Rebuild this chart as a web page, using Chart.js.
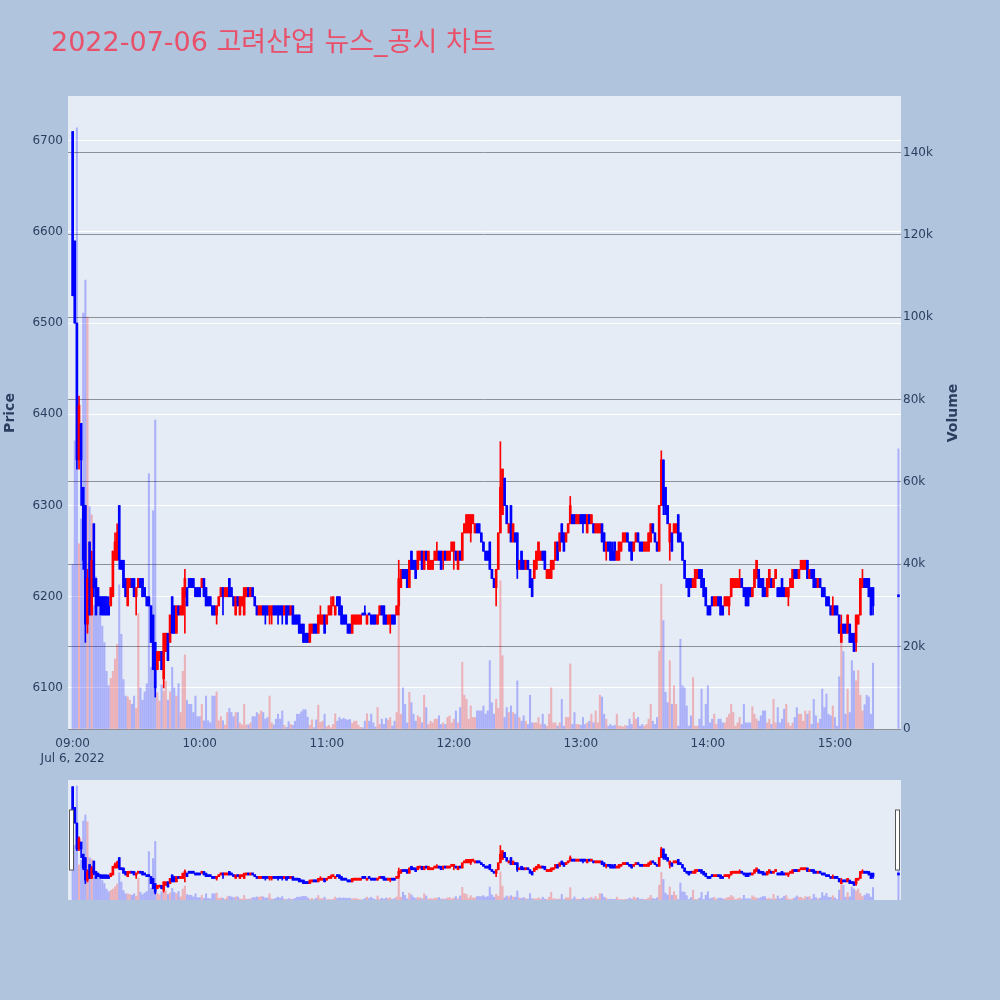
<!DOCTYPE html>
<html>
<head>
<meta charset="utf-8">
<script src="https://cdn.jsdelivr.net/npm/chart.js@4.4.1/dist/chart.umd.min.js"></script>
<style>
  html, body { margin: 0; padding: 0; background: #b0c4de; }
  #wrap { position: relative; width: 1000px; height: 1000px; }
  #main { position: absolute; left: 0; top: 0; }
  #slider { position: absolute; left: 0; top: 770px; }
</style>
</head>
<body>
<div id="wrap">
  <canvas id="main" width="1000" height="1000"></canvas>
  <canvas id="slider" width="1000" height="140"></canvas>
</div>
<script>
// 1-minute bars, index 0 = 09:00
const opens = [
  6710,6590,6500,6350,6390,6320,6300,6170,6260,6180,
  6280,6220,6210,6200,6200,6200,6200,6190,6190,6200,
  6240,6240,6300,6240,6240,6220,6190,6210,6220,6220,
  6200,6210,6220,6220,6210,6200,6200,6190,6180,6150,
  6120,6130,6140,6110,6140,6160,6150,6200,6190,6160,
  6190,6180,6180,6200,6210,6220,6220,6220,6210,6210,
  6210,6210,6220,6210,6200,6200,6190,6190,6180,6190,
  6200,6210,6200,6200,6220,6210,6200,6180,6200,6180,
  6190,6180,6200,6210,6200,6210,6200,6190,6180,6180,
  6190,6190,6190,6180,6180,6190,6190,6190,6190,6190,
  6180,6190,6190,6180,6190,6180,6180,6180,6170,6170,
  6160,6160,6150,6160,6170,6170,6160,6170,6170,6180,
  6170,6180,6180,6190,6180,6200,6200,6190,6180,6180,
  6170,6170,6160,6170,6170,6170,6170,6180,6180,6170,
  6180,6180,6180,6180,6170,6180,6190,6190,6180,6170,
  6170,6180,6180,6180,6190,6210,6230,6230,6230,6210,
  6250,6240,6240,6230,6240,6250,6230,6250,6230,6230,
  6230,6240,6240,6250,6250,6240,6250,6240,6240,6250,
  6250,6250,6230,6250,6240,6270,6270,6270,6270,6280,
  6270,6280,6280,6270,6260,6250,6250,6260,6230,6220,
  6210,6230,6270,6290,6330,6300,6270,6300,6260,6270,
  6270,6230,6250,6240,6230,6240,6230,6220,6220,6230,
  6240,6240,6250,6250,6220,6220,6220,6230,6240,6260,
  6250,6280,6270,6260,6270,6280,6290,6290,6280,6280,
  6290,6290,6290,6270,6290,6280,6280,6270,6270,6270,
  6280,6270,6250,6260,6260,6250,6260,6240,6240,6250,
  6260,6260,6270,6260,6260,6250,6260,6270,6260,6260,
  6250,6250,6250,6260,6280,6270,6260,6250,6300,6350,
  6320,6300,6260,6270,6270,6270,6290,6270,6260,6240,
  6220,6220,6220,6210,6210,6220,6230,6230,6220,6210,
  6190,6190,6200,6190,6190,6200,6200,6190,6190,6190,
  6190,6200,6210,6210,6210,6210,6220,6210,6210,6210,
  6210,6200,6210,6220,6230,6220,6220,6210,6200,6210,
  6220,6210,6220,6210,6210,6220,6210,6200,6200,6210,
  6210,6230,6230,6220,6230,6230,6230,6240,6220,6230,
  6230,6220,6210,6220,6210,6210,6200,6200,6190,6180,
  6190,6190,6180,6150,6170,6170,6160,6170,6160,6160,
  6150,6170,6180,6210,6220,6220,6220,6210,6210
];
const highs = [
  6710,6590,6500,6420,6390,6320,6300,6230,6260,6250,
  6280,6220,6210,6200,6200,6200,6200,6200,6210,6250,
  6270,6280,6300,6240,6240,6220,6220,6220,6220,6220,
  6210,6220,6220,6220,6210,6200,6200,6190,6180,6150,
  6140,6140,6140,6160,6160,6160,6180,6200,6190,6190,
  6190,6190,6210,6230,6210,6220,6220,6220,6210,6210,
  6210,6220,6220,6210,6200,6200,6190,6190,6190,6200,
  6210,6210,6210,6210,6220,6210,6200,6200,6200,6200,
  6200,6210,6210,6210,6210,6210,6200,6190,6190,6190,
  6190,6190,6190,6190,6190,6190,6190,6190,6190,6190,
  6190,6190,6190,6190,6190,6180,6180,6180,6170,6170,
  6160,6160,6170,6170,6170,6170,6180,6190,6180,6180,
  6180,6190,6200,6200,6190,6200,6200,6190,6180,6180,
  6170,6170,6180,6180,6180,6180,6180,6180,6190,6180,
  6180,6180,6180,6180,6180,6190,6190,6190,6180,6180,
  6180,6180,6180,6190,6240,6230,6230,6230,6230,6240,
  6250,6240,6240,6250,6250,6250,6250,6250,6250,6240,
  6240,6250,6260,6250,6250,6250,6250,6250,6250,6260,
  6260,6250,6250,6250,6270,6280,6290,6290,6290,6290,
  6280,6280,6280,6270,6260,6250,6250,6260,6230,6220,
  6230,6270,6370,6340,6330,6300,6280,6300,6280,6270,
  6270,6240,6250,6240,6240,6240,6230,6220,6240,6250,
  6260,6250,6250,6250,6230,6230,6240,6240,6260,6260,
  6270,6280,6270,6270,6280,6310,6290,6290,6290,6290,
  6290,6290,6290,6290,6290,6290,6280,6280,6280,6280,
  6280,6270,6260,6260,6260,6260,6260,6250,6260,6260,
  6270,6270,6270,6260,6260,6260,6270,6270,6260,6260,
  6260,6260,6270,6280,6280,6270,6260,6300,6360,6350,
  6320,6300,6280,6270,6280,6280,6290,6270,6260,6240,
  6220,6220,6220,6220,6230,6230,6230,6230,6220,6210,
  6190,6190,6200,6200,6200,6200,6200,6190,6200,6200,
  6200,6220,6220,6220,6220,6230,6220,6210,6210,6210,
  6210,6210,6230,6240,6230,6220,6220,6210,6220,6230,
  6220,6220,6230,6210,6210,6220,6210,6210,6210,6220,
  6230,6230,6230,6230,6240,6240,6240,6240,6230,6230,
  6230,6220,6220,6220,6210,6210,6200,6200,6190,6200,
  6190,6190,6180,6180,6170,6170,6180,6170,6160,6160,
  6180,6180,6220,6230,6220,6220,6220,6210,6210
];
const lows = [
  6530,6500,6340,6340,6300,6230,6150,6160,6180,6180,
  6200,6180,6190,6180,6180,6180,6180,6180,6190,6200,
  6240,6240,6230,6230,6210,6200,6190,6210,6210,6200,
  6180,6210,6210,6200,6200,6190,6190,6150,6120,6090,
  6120,6130,6120,6100,6140,6130,6150,6160,6160,6160,
  6180,6180,6180,6160,6190,6210,6210,6210,6200,6200,
  6200,6210,6200,6190,6190,6190,6180,6180,6170,6190,
  6200,6180,6200,6200,6200,6200,6190,6180,6190,6180,
  6190,6180,6200,6200,6200,6200,6190,6180,6180,6180,
  6180,6170,6180,6170,6170,6180,6180,6170,6180,6170,
  6180,6170,6180,6180,6170,6170,6170,6160,6160,6150,
  6150,6150,6150,6160,6160,6160,6160,6170,6170,6160,
  6170,6180,6180,6190,6180,6190,6180,6170,6170,6170,
  6160,6160,6160,6170,6170,6170,6170,6180,6180,6170,
  6180,6170,6170,6170,6170,6180,6180,6170,6170,6170,
  6160,6170,6170,6180,6180,6210,6220,6220,6210,6210,
  6230,6230,6220,6230,6240,6230,6230,6240,6230,6230,
  6230,6240,6240,6240,6230,6230,6240,6240,6240,6250,
  6230,6240,6230,6240,6240,6270,6270,6270,6260,6280,
  6270,6270,6270,6260,6250,6240,6240,6230,6220,6210,
  6190,6230,6270,6290,6300,6280,6270,6260,6260,6260,
  6220,6230,6230,6230,6230,6230,6210,6200,6220,6230,
  6240,6240,6240,6230,6220,6220,6220,6230,6240,6240,
  6250,6260,6250,6260,6270,6280,6280,6280,6280,6280,
  6280,6270,6280,6270,6280,6280,6270,6270,6270,6270,
  6260,6250,6240,6250,6240,6240,6240,6240,6240,6250,
  6260,6260,6260,6250,6240,6250,6260,6260,6250,6250,
  6250,6250,6250,6260,6270,6260,6250,6250,6300,6290,
  6290,6280,6240,6250,6270,6270,6260,6260,6240,6220,
  6210,6200,6210,6210,6210,6220,6220,6210,6200,6190,
  6180,6180,6190,6190,6190,6190,6180,6180,6190,6190,
  6180,6200,6210,6210,6210,6210,6210,6200,6190,6190,
  6200,6200,6210,6220,6210,6210,6200,6200,6200,6210,
  6210,6210,6220,6200,6200,6200,6200,6200,6190,6210,
  6210,6220,6220,6220,6230,6230,6230,6220,6220,6220,
  6210,6210,6210,6210,6200,6200,6190,6190,6180,6180,
  6180,6180,6160,6150,6160,6160,6160,6150,6150,6140,
  6140,6170,6180,6210,6210,6210,6200,6180,6180
];
const closes = [
  6530,6500,6350,6410,6350,6240,6170,6220,6180,6240,
  6210,6180,6190,6190,6180,6180,6180,6180,6210,6250,
  6260,6270,6240,6230,6210,6200,6220,6220,6210,6200,
  6210,6220,6210,6200,6200,6190,6190,6150,6120,6100,
  6140,6140,6120,6160,6160,6130,6180,6160,6160,6190,
  6180,6190,6210,6220,6190,6210,6210,6210,6200,6200,
  6200,6220,6200,6190,6190,6190,6180,6180,6190,6200,
  6210,6200,6210,6210,6200,6200,6190,6200,6190,6200,
  6200,6210,6210,6200,6210,6200,6190,6180,6190,6190,
  6180,6180,6180,6190,6190,6180,6180,6180,6180,6180,
  6190,6170,6180,6190,6170,6170,6170,6160,6160,6150,
  6150,6150,6170,6170,6160,6160,6180,6180,6180,6160,
  6180,6190,6190,6200,6190,6190,6180,6170,6170,6170,
  6160,6160,6180,6180,6180,6180,6180,6180,6180,6180,
  6180,6170,6170,6170,6180,6190,6180,6170,6170,6180,
  6180,6170,6170,6190,6220,6230,6220,6220,6210,6240,
  6230,6230,6220,6250,6250,6230,6250,6240,6250,6240,
  6240,6250,6250,6240,6230,6250,6240,6250,6250,6260,
  6260,6240,6250,6240,6270,6280,6290,6290,6290,6290,
  6280,6270,6270,6260,6250,6240,6240,6230,6220,6210,
  6230,6270,6320,6340,6300,6280,6280,6260,6280,6260,
  6230,6240,6230,6230,6240,6230,6210,6200,6240,6250,
  6260,6250,6240,6230,6230,6230,6240,6240,6260,6240,
  6270,6260,6250,6270,6280,6300,6280,6280,6290,6290,
  6280,6280,6280,6290,6280,6290,6270,6280,6280,6280,
  6260,6250,6260,6250,6240,6240,6240,6250,6260,6260,
  6270,6270,6260,6250,6240,6260,6270,6260,6250,6250,
  6260,6260,6270,6280,6270,6260,6250,6300,6350,6300,
  6290,6280,6280,6250,6280,6280,6260,6260,6240,6220,
  6210,6200,6210,6220,6230,6230,6220,6210,6200,6190,
  6180,6180,6190,6200,6200,6190,6180,6180,6200,6200,
  6200,6220,6220,6220,6220,6220,6210,6200,6190,6190,
  6200,6210,6230,6240,6210,6210,6200,6200,6220,6230,
  6210,6220,6230,6200,6200,6200,6200,6210,6210,6220,
  6230,6220,6220,6230,6240,6240,6240,6220,6230,6220,
  6210,6210,6220,6210,6200,6200,6190,6190,6180,6190,
  6180,6180,6160,6170,6160,6160,6180,6150,6150,6140,
  6180,6180,6220,6220,6210,6210,6200,6180,6190
];
const volumes = [
  40000,70000,146000,45000,51000,101000,109000,100000,54000,52000,
  30000,37000,32000,28000,25000,21000,14000,10500,12300,14000,
  17000,20600,35000,23000,12000,8000,7800,7000,6000,8000,
  5000,28000,10000,7000,9000,11000,62000,15000,53000,75000,
  8800,6800,10700,9200,11600,7000,9000,15000,10000,8000,
  11000,4000,14000,18000,7000,6000,6000,4000,8000,3000,
  3000,6000,2000,8000,2000,1500,8000,8000,9000,2000,
  3000,2000,1000,4000,5000,4000,3000,4000,4000,1500,
  1000,6000,1000,1000,1500,3000,3000,4000,3600,4400,
  4000,2400,2800,8000,1500,1000,2400,3600,2400,4400,
  900,400,1800,1100,900,1900,3600,3600,4200,4700,
  4700,2900,900,2200,300,2200,5800,1600,1900,3600,
  600,900,300,1100,3700,1900,2800,2300,2600,2300,
  2200,2300,1400,1900,1900,900,400,300,1900,3700,
  1900,3600,1500,500,5200,1100,2400,1100,2600,2200,
  2800,700,1900,4000,30000,3600,10000,6000,1500,8900,
  6400,3600,1900,3200,2800,1500,8200,5200,1100,1900,
  1500,2400,2400,3200,1100,1500,1100,2800,3200,1500,
  2400,4400,1500,5200,16200,8200,7200,2400,5600,2800,
  2800,4400,4400,4400,5600,3600,4400,16600,6400,3600,
  7200,5000,36000,17800,2800,5200,4000,5600,4000,3600,
  11700,2800,1900,3200,1900,1100,8200,1500,1500,1500,
  2800,1100,3600,1100,700,3600,10000,1500,1500,700,
  1500,7200,700,2800,2800,15800,1100,4000,1100,1100,
  900,2800,1100,1500,1900,3600,1500,4400,1500,8200,
  7800,3600,2400,700,1100,700,900,3600,700,700,
  500,900,700,2400,1100,4000,2400,2800,700,1100,
  700,1100,2400,6000,1900,1100,2800,18900,35200,26300,
  8900,6400,16600,6000,10500,6000,700,21800,10500,10000,
  5600,700,3200,12500,700,700,2400,9700,700,6000,
  10500,1500,2400,3600,1100,2400,2400,1500,1500,2800,
  3600,6000,4000,700,1500,2800,1100,6000,1500,1500,
  1500,5400,3600,2400,1900,3200,4400,4400,1500,2400,
  1100,7200,1500,5200,1500,2400,4800,6000,1500,700,
  1500,2800,5200,3600,3600,1900,4400,3600,4400,1100,
  7200,3200,1500,2400,9700,5200,8500,3600,3200,5600,
  2800,700,12700,24000,18800,3600,9700,4000,16600,14100,
  11700,14200,8200,4400,5900,8200,7800,3600,16000
];
// closing auction at 15:30
const closingMinute = 390;
const closingPrice = 6200;
const closingVolume = 68000;

const hourTicks = [0, 60, 120, 180, 240, 300, 360];
const priceTicks = [6100, 6200, 6300, 6400, 6500, 6600, 6700];
const volumeTicks = [0, 20000, 40000, 60000, 80000, 100000, 120000, 140000];

const UP = '#ff0000';
const DOWN = '#0000ff';
const UP_VOL = 'rgba(255,0,0,0.25)';
const DOWN_VOL = 'rgba(0,0,255,0.25)';
const TEXT = '#2a3f5f';
const FONT = '"DejaVu Sans", "Noto Sans CJK KR", sans-serif';

Chart.defaults.font.family = FONT;
Chart.defaults.color = TEXT;

const xs = opens.map((_, i) => i).concat([closingMinute]);
const O = opens.concat([closingPrice]);
const H = highs.concat([closingPrice]);
const L = lows.concat([closingPrice]);
const C = closes.concat([closingPrice]);
const V = volumes.concat([closingVolume]);
const isUp = C.map((c, i) => c > O[i]);

function makeDatasets() {
  return [
    {
      label: 'Volume', yAxisID: 'y2', order: 3, grouped: false,
      data: xs.map((x, i) => ({ x, y: V[i] })),
      backgroundColor: isUp.map(u => u ? UP_VOL : DOWN_VOL),
      barThickness: 1.4,
    },
    {
      label: 'wick', yAxisID: 'y', order: 2, grouped: false,
      data: xs.map((x, i) => ({ x, y: [L[i], H[i]] })),
      backgroundColor: isUp.map(u => u ? UP : DOWN),
      barThickness: 1,
    },
    {
      label: 'body', yAxisID: 'y', order: 1, grouped: false,
      data: xs.map((x, i) => ({ x, y: [O[i], C[i]] })),
      backgroundColor: isUp.map(u => u ? UP : DOWN),
      barThickness: 2, minBarLength: 2,
    },
  ];
}

const plotBg = {
  id: 'plotBg',
  beforeDraw(chart) {
    const { ctx, chartArea: a } = chart;
    ctx.save();
    ctx.fillStyle = '#e5ecf6';
    ctx.fillRect(a.left, a.top, a.right - a.left, a.bottom - a.top);
    ctx.restore();
  }
};

const texts = {
  id: 'texts',
  afterDraw(chart) {
    const ctx = chart.ctx;
    ctx.save();
    ctx.fillStyle = '#e9506a';
    ctx.font = '27px ' + FONT;
    ctx.textBaseline = 'alphabetic';
    ctx.fillText('2022-07-06 고려산업 뉴스_공시 차트', 51, 51);
    ctx.fillStyle = TEXT;
    ctx.font = 'bold 14px ' + FONT;
    ctx.textAlign = 'center';
    ctx.textBaseline = 'middle';
    [['Price', 10], ['Volume', 953]].forEach(([t, x]) => {
      ctx.save();
      ctx.translate(x, 413);
      ctx.rotate(-Math.PI / 2);
      ctx.fillText(t, 0, 0);
      ctx.restore();
    });
    ctx.restore();
  }
};

new Chart(document.getElementById('main'), {
  type: 'bar',
  data: { datasets: makeDatasets() },
  options: {
    responsive: false, animation: false, devicePixelRatio: 1,
    layout: { padding: { top: 96, left: 0, right: 0, bottom: 0 } },
    plugins: { legend: { display: false }, tooltip: { enabled: false } },
    scales: {
      x: {
        type: 'linear', min: -2.2, max: 391.2, offset: false,
        grid: { display: false, drawTicks: false }, border: { display: false },
        afterBuildTicks: s => { s.ticks = hourTicks.map(v => ({ value: v })); },
        afterFit: s => { s.height = 271; },
        ticks: {
          padding: 8, font: { size: 12, lineHeight: 1.2 }, color: TEXT, maxRotation: 0,
          callback: v => {
            const lbl = String(9 + v / 60).padStart(2, '0') + ':00';
            return v === 0 ? [lbl, 'Jul 6, 2022'] : lbl;
          }
        }
      },
      y: {
        position: 'left', min: 6055, max: 6749,
        grid: { color: '#ffffff', lineWidth: 1, drawTicks: false }, border: { display: false },
        afterBuildTicks: s => { s.ticks = priceTicks.map(v => ({ value: v })); },
        afterFit: s => { s.width = 68; },
        ticks: { padding: 5, font: { size: 12 }, color: TEXT, callback: v => String(v) }
      },
      y2: {
        position: 'right', min: 0, max: 153700,
        grid: { color: '#8d9096', lineWidth: 1, drawTicks: false }, border: { display: false },
        afterBuildTicks: s => { s.ticks = volumeTicks.map(v => ({ value: v })); },
        afterFit: s => { s.width = 99; },
        ticks: { padding: 2, font: { size: 12 }, color: TEXT, callback: v => v === 0 ? '0' : (v / 1000) + 'k' }
      }
    }
  },
  plugins: [plotBg, texts]
});

const handles = {
  id: 'handles',
  afterDraw(chart) {
    const ctx = chart.ctx;
    ctx.save();
    ctx.fillStyle = '#ffffff';
    ctx.strokeStyle = '#555555';
    ctx.lineWidth = 1;
    [69.5, 895.5].forEach(x => {
      ctx.fillRect(x, 40, 4, 60);
      ctx.strokeRect(x, 40, 4, 60);
    });
    ctx.restore();
  }
};

new Chart(document.getElementById('slider'), {
  type: 'bar',
  data: { datasets: makeDatasets() },
  options: {
    responsive: false, animation: false, devicePixelRatio: 1,
    layout: { padding: { top: 10, left: 68, right: 99, bottom: 10 } },
    plugins: { legend: { display: false }, tooltip: { enabled: false } },
    scales: {
      x: { type: 'linear', min: -2.2, max: 391.2, offset: false, display: false },
      y: { min: 6055, max: 6749, display: false },
      y2: { min: 0, max: 153700, display: false }
    }
  },
  plugins: [plotBg, handles]
});
</script>
</body>
</html>
